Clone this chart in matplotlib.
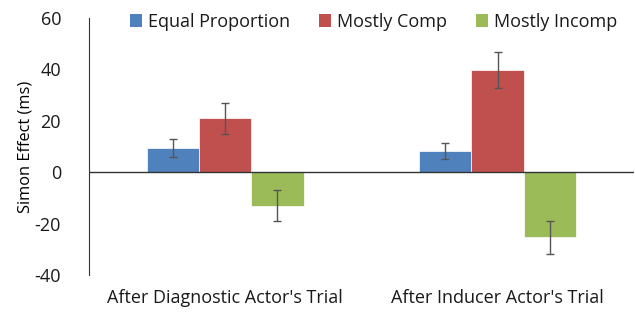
import numpy as np
import matplotlib.pyplot as plt
from matplotlib.patches import Patch

groups = ["After Diagnostic Actor's Trial", "After Inducer Actor's Trial"]
series = ["Equal Proportion", "Mostly Comp", "Mostly Incomp"]
colors = ["#4F81BD", "#C0504D", "#9BBB59"]

equal = [9.3, 8.3]
comp = [21.0, 39.7]
incomp = [-13.0, -25.4]
equal_err = [3.5, 3.2]
comp_err = [6.0, 7.0]
incomp_err = [6.2, 6.3]

values = [equal, comp, incomp]
errors = [equal_err, comp_err, incomp_err]

plt.rcParams['font.family'] = ['Open Sans', 'DejaVu Sans']
plt.rcParams['axes.unicode_minus'] = False
plt.rcParams['text.color'] = '#1a1a1a'
plt.rcParams['xtick.labelcolor'] = '#1a1a1a'
plt.rcParams['ytick.labelcolor'] = '#1a1a1a'

fig = plt.figure(figsize=(6.35, 3.12), dpi=100)
ax = fig.add_axes([0.140, 0.119, 0.858, 0.823])

x = np.arange(len(groups)) + 0.5
w = 0.192
for i, (vals, errs) in enumerate(zip(values, errors)):
    ax.bar(x + (i - 1) * w, vals, w, color=colors[i], edgecolor='white',
           linewidth=0.5, yerr=errs,
           error_kw=dict(ecolor='#555555', elinewidth=1, capsize=3, capthick=1))

ax.axhline(0, color='#333333', linewidth=1)
ax.set_xlim(0, 2)
ax.set_ylim(-40, 60)
ax.set_yticks([-40, -20, 0, 20, 40, 60])
ax.set_xticks(x)
ax.set_xticklabels(groups, fontsize=13)
ax.tick_params(axis='x', length=0, pad=10)
ax.tick_params(axis='y', length=0, pad=20, labelsize=13)
for s in ['top', 'right', 'bottom']:
    ax.spines[s].set_visible(False)
ax.spines['left'].set_color('#333333')
ax.set_ylabel("Simon Effect (ms)", fontsize=11.8)
ax.yaxis.set_label_coords(-0.101, 0.5)

handles = [Patch(facecolor=c) for c in colors]
fig.legend(handles, series, loc='center', bbox_to_anchor=(0.588, 0.93), ncol=3,
           frameon=False, fontsize=13, handlelength=0.7, handleheight=0.7,
           handletextpad=0.3, columnspacing=1.6)

fig.savefig('out.png', dpi=100)
